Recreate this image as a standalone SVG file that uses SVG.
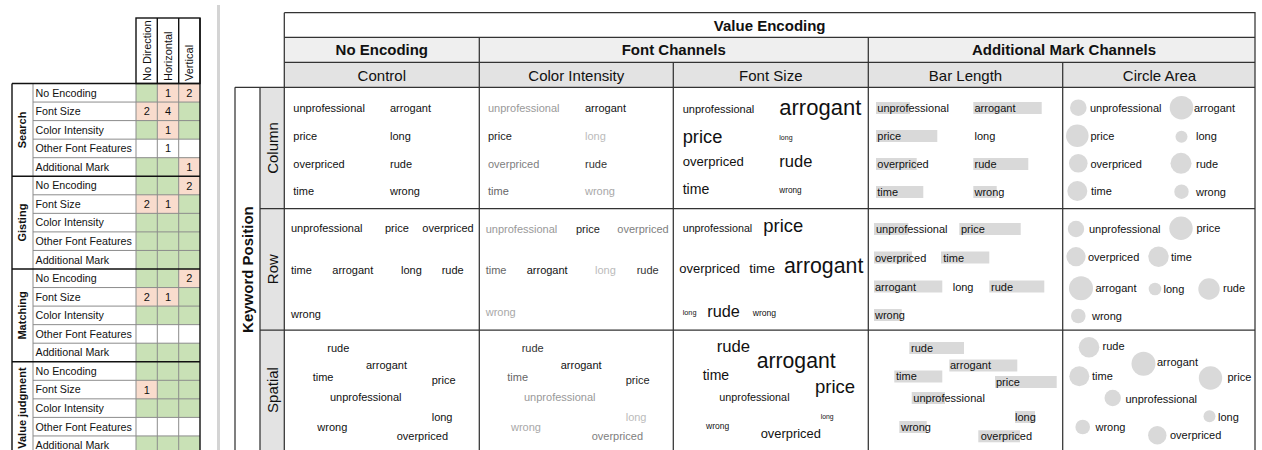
<svg xmlns="http://www.w3.org/2000/svg" width="1262" height="450" viewBox="0 0 1262 450">
  <style>
    text { font-family: "Liberation Sans", Arial, sans-serif; fill: #111; }
    .lbl { font-size: 10.7px; }
    .num { font-size: 11px; text-anchor: middle; }
    .hdr { font-size: 11px; }
    .cat { font-size: 11px; font-weight: bold; text-anchor: middle; }
    .gline { stroke: #8c8c8c; stroke-width: 1; fill: none; }
    .kline { stroke: #111; stroke-width: 1.4; fill: none; }
    .tline { stroke: #333; stroke-width: 1.25; fill: none; }
    .h1 { font-size: 15px; font-weight: bold; text-anchor: middle; }
    .h3 { font-size: 15px; text-anchor: middle; }
    .w { font-size: 11px; }
    .bar { fill: #d9d9d9; }
    .dot { fill: #d9d9d9; }
    .c1 { fill: #111; } .c2 { fill: #1c1c1c; } .c3 { fill: #333; } .c4 { fill: #666; }
    .c5 { fill: #808080; } .c6 { fill: #999; } .c7 { fill: #a8a8a8; } .c8 { fill: #bbb; }
    .green { fill: #c9e1b6; } .peach { fill: #f9dccd; }
  </style>

  <!-- ===== Study summary table ===== -->
  <g id="summary-table">
    <!-- cell fills -->
    <rect class="green" x="136" y="83.5" width="64" height="371"/>
    <g fill="#fff">
      <rect x="136" y="139.15" width="64" height="18.55"/>
      <rect x="136" y="324.65" width="64" height="18.55"/>
      <rect x="136" y="417.4" width="64" height="18.55"/>
    </g>
    <g class="peach">
      <rect x="157.3" y="83.5" width="21.4" height="18.55"/>
      <rect x="178.7" y="83.5" width="21.3" height="18.55"/>
      <rect x="136" y="102.05" width="21.3" height="18.55"/>
      <rect x="157.3" y="102.05" width="21.4" height="18.55"/>
      <rect x="157.3" y="120.6" width="21.4" height="18.55"/>
      <rect x="178.7" y="157.7" width="21.3" height="18.55"/>
      <rect x="178.7" y="176.25" width="21.3" height="18.55"/>
      <rect x="136" y="194.8" width="21.3" height="18.55"/>
      <rect x="157.3" y="194.8" width="21.4" height="18.55"/>
      <rect x="178.7" y="269" width="21.3" height="18.55"/>
      <rect x="136" y="287.55" width="21.3" height="18.55"/>
      <rect x="157.3" y="287.55" width="21.4" height="18.55"/>
      <rect x="136" y="380.3" width="21.3" height="18.55"/>
    </g>

    <!-- thin row lines -->
    <g class="gline">
      <path d="M33 102.05H200M33 120.6H200M33 139.15H200M33 157.7H200"/>
      <path d="M33 194.8H200M33 213.35H200M33 231.9H200M33 250.45H200"/>
      <path d="M33 287.55H200M33 306.1H200M33 324.65H200M33 343.2H200"/>
      <path d="M33 380.3H200M33 398.85H200M33 417.4H200M33 435.95H200"/>
      <path d="M33 83.5V454.5M136 83.5V454.5M157.3 83.5V454.5M178.7 83.5V454.5"/>
    </g>
    <!-- group rules and frame -->
    <g class="kline">
      <path d="M12 83.5H200M12 176.25H200M12 269H200M12 361.75H200"/>
      <path d="M12 83.5V454.5M200 18V454.5"/>
      <rect x="136" y="18" width="64" height="65.5"/>
      <path d="M157.3 18V83.5M178.7 18V83.5"/>
    </g>

    <!-- column heads -->
    <text class="hdr" transform="translate(150.6 81) rotate(-90)">No Direction</text>
    <text class="hdr" transform="translate(171.9 81) rotate(-90)">Horizontal</text>
    <text class="hdr" transform="translate(193.2 81) rotate(-90)">Vertical</text>

    <!-- task groups -->
    <text class="cat" transform="translate(26 129.9) rotate(-90)">Search</text>
    <text class="cat" transform="translate(26 222.6) rotate(-90)">Gisting</text>
    <text class="cat" transform="translate(26 315.4) rotate(-90)">Matching</text>
    <text class="cat" transform="translate(26 408.1) rotate(-90)">Value judgment</text>

    <!-- encodings per row -->
    <g class="lbl">
      <text x="35.5" y="96.6">No Encoding</text>
      <text x="35.5" y="115.1">Font Size</text>
      <text x="35.5" y="133.7">Color Intensity</text>
      <text x="35.5" y="152.2">Other Font Features</text>
      <text x="35.5" y="170.8">Additional Mark</text>
      <text x="35.5" y="189.3">No Encoding</text>
      <text x="35.5" y="207.9">Font Size</text>
      <text x="35.5" y="226.4">Color Intensity</text>
      <text x="35.5" y="245.0">Other Font Features</text>
      <text x="35.5" y="263.5">Additional Mark</text>
      <text x="35.5" y="282.1">No Encoding</text>
      <text x="35.5" y="300.6">Font Size</text>
      <text x="35.5" y="319.2">Color Intensity</text>
      <text x="35.5" y="337.7">Other Font Features</text>
      <text x="35.5" y="356.3">Additional Mark</text>
      <text x="35.5" y="374.8">No Encoding</text>
      <text x="35.5" y="393.4">Font Size</text>
      <text x="35.5" y="411.9">Color Intensity</text>
      <text x="35.5" y="430.5">Other Font Features</text>
      <text x="35.5" y="449.0">Additional Mark</text>
    </g>

    <!-- counts -->
    <g class="num">
      <text x="168" y="96.8">1</text><text x="189.3" y="96.8">2</text>
      <text x="146.7" y="115.3">2</text><text x="168" y="115.3">4</text>
      <text x="168" y="133.9">1</text>
      <text x="168" y="152.4">1</text>
      <text x="189.3" y="171">1</text>
      <text x="189.3" y="189.5">2</text>
      <text x="146.7" y="208.1">2</text><text x="168" y="208.1">1</text>
      <text x="189.3" y="282.3">2</text>
      <text x="146.7" y="300.8">2</text><text x="168" y="300.8">1</text>
      <text x="146.7" y="393.6">1</text>
    </g>
  </g>

  <!-- divider -->
  <rect x="217" y="5" width="3" height="445" fill="#d4d4d4"/>

  <!-- ===== Encoding matrix ===== -->
  <g id="matrix-frame">
    <rect x="284.3" y="37.3" width="970.7" height="25" fill="#efefef"/>
    <rect x="284.3" y="62.3" width="970.7" height="25" fill="#e3e3e3"/>
    <rect x="260" y="87.3" width="24.3" height="365" fill="#e3e3e3"/>
    <g class="tline">
      <path d="M284.3 12.7H1255V452M284.3 12.7V452"/>
      <path d="M284.3 37.3H1255M284.3 62.3H1255M235 87.3H1255"/>
      <path d="M260 208.5H1255M260 330H1255"/>
      <path d="M235 87.3V452M260 87.3V452"/>
      <path d="M479.3 37.3V452M868.3 37.3V452M673.3 62.3V452M1062.7 62.3V452"/>
    </g>
  </g>

  <g id="matrix-headers">
    <text class="h1" x="769.7" y="30.5">Value Encoding</text>
    <text class="h1" x="381.8" y="55">No Encoding</text>
    <text class="h1" x="673.8" y="55">Font Channels</text>
    <text class="h1" x="1064" y="55">Additional Mark Channels</text>
    <text class="h3" x="381.8" y="80.5">Control</text>
    <text class="h3" x="576.3" y="80.5">Color Intensity</text>
    <text class="h3" x="770.8" y="80.5">Font Size</text>
    <text class="h3" x="965.5" y="80.5">Bar Length</text>
    <text class="h3" x="1159.5" y="80.5">Circle Area</text>
    <text class="h1" transform="translate(253 269.6) rotate(-90)">Keyword Position</text>
    <text class="h3" transform="translate(277.6 148) rotate(-90)">Column</text>
    <text class="h3" transform="translate(277.6 269.2) rotate(-90)">Row</text>
    <text class="h3" transform="translate(277.6 390) rotate(-90)">Spatial</text>
  </g>

  <!-- Control -->
  <g id="control-column" class="w">
    <text x="293.3" y="111.5">unprofessional</text><text x="390" y="111.5">arrogant</text>
    <text x="293.3" y="139.5">price</text><text x="390" y="139.5">long</text>
    <text x="293.3" y="167.5">overpriced</text><text x="390" y="167.5">rude</text>
    <text x="293.3" y="195">time</text><text x="390" y="195">wrong</text>
  </g>
  <g id="control-row" class="w">
    <text x="291" y="231.5">unprofessional</text><text x="385" y="231.5">price</text><text x="422.3" y="231.5">overpriced</text>
    <text x="291" y="274">time</text><text x="332.3" y="274">arrogant</text><text x="401" y="274">long</text><text x="441.7" y="274">rude</text>
    <text x="291" y="318">wrong</text>
  </g>
  <g id="control-spatial" class="w">
    <text x="327.3" y="352">rude</text>
    <text x="366" y="369">arrogant</text>
    <text x="312.7" y="380.5">time</text>
    <text x="431.7" y="384">price</text>
    <text x="330" y="401">unprofessional</text>
    <text x="431.7" y="420.5">long</text>
    <text x="317.3" y="430.5">wrong</text>
    <text x="396.7" y="439.5">overpriced</text>
  </g>

  <!-- Color intensity -->
  <g id="color-column" class="w">
    <text class="c6" x="488" y="111.5">unprofessional</text><text class="c1" x="585" y="111.5">arrogant</text>
    <text class="c2" x="488" y="139.5">price</text><text class="c8" x="585" y="139.5">long</text>
    <text class="c5" x="488" y="167.5">overpriced</text><text class="c3" x="585" y="167.5">rude</text>
    <text class="c4" x="488" y="195">time</text><text class="c7" x="585" y="195">wrong</text>
  </g>
  <g id="color-row" class="w">
    <text class="c6" x="485.7" y="232.5">unprofessional</text><text class="c2" x="576" y="232.5">price</text><text class="c5" x="617.3" y="232.5">overpriced</text>
    <text class="c4" x="485.7" y="274">time</text><text class="c1" x="526.7" y="274">arrogant</text><text class="c8" x="595" y="274">long</text><text class="c3" x="636.7" y="274">rude</text>
    <text class="c7" x="485.7" y="315.5">wrong</text>
  </g>
  <g id="color-spatial" class="w">
    <text class="c3" x="521.7" y="352">rude</text>
    <text class="c1" x="560.7" y="369">arrogant</text>
    <text class="c4" x="507.3" y="380.5">time</text>
    <text class="c2" x="625.7" y="384">price</text>
    <text class="c6" x="524" y="401">unprofessional</text>
    <text class="c8" x="625.7" y="420.5">long</text>
    <text class="c7" x="511" y="430.5">wrong</text>
    <text class="c5" x="591.7" y="439.5">overpriced</text>
  </g>

  <!-- Font size -->
  <g id="size-column">
    <text x="682.7" y="112.5" font-size="11">unprofessional</text>
    <text x="779.3" y="115" font-size="22">arrogant</text>
    <text x="682.7" y="143.3" font-size="18.3">price</text>
    <text x="779.3" y="140" font-size="7">long</text>
    <text x="682.7" y="166" font-size="13.1">overpriced</text>
    <text x="779.3" y="166.7" font-size="16.5">rude</text>
    <text x="682.7" y="194.3" font-size="14.1">time</text>
    <text x="779.3" y="193.3" font-size="8.2">wrong</text>
  </g>
  <g id="size-row">
    <text x="682.7" y="232.3" font-size="10.7">unprofessional</text>
    <text x="763.3" y="232.3" font-size="18.4">price</text>
    <text x="679.3" y="272.7" font-size="13">overpriced</text>
    <text x="749.3" y="272.7" font-size="13.6">time</text>
    <text x="784" y="273.3" font-size="21.3">arrogant</text>
    <text x="682.7" y="315" font-size="7.3">long</text>
    <text x="707.3" y="316.7" font-size="16.3">rude</text>
    <text x="752.7" y="316" font-size="8.6">wrong</text>
  </g>
  <g id="size-spatial">
    <text x="716.7" y="351.7" font-size="16.7">rude</text>
    <text x="756.7" y="368.3" font-size="21.2">arrogant</text>
    <text x="702.7" y="380" font-size="14">time</text>
    <text x="815" y="393.3" font-size="18.5">price</text>
    <text x="719.3" y="401" font-size="10.8">unprofessional</text>
    <text x="820.7" y="419.3" font-size="6.8">long</text>
    <text x="706" y="429.3" font-size="8.5">wrong</text>
    <text x="760.7" y="438.3" font-size="12.9">overpriced</text>
  </g>

  <!-- Bar length -->
  <g id="bar-column">
    <rect class="bar" x="876" y="102" width="34" height="12"/>
    <rect class="bar" x="973.3" y="102" width="68.4" height="12"/>
    <rect class="bar" x="876" y="130" width="61.3" height="12"/>
    <rect class="bar" x="876" y="158" width="40.7" height="12"/>
    <rect class="bar" x="973.3" y="158" width="55" height="12"/>
    <rect class="bar" x="876" y="186" width="47.3" height="12"/>
    <rect class="bar" x="973.3" y="186" width="23.4" height="12"/>
    <g class="w">
      <text x="877.3" y="112">unprofessional</text><text x="974.5" y="112">arrogant</text>
      <text x="877.3" y="140">price</text><text x="974.5" y="140">long</text>
      <text x="877.3" y="168">overpriced</text><text x="974.5" y="168">rude</text>
      <text x="877.3" y="196">time</text><text x="974.5" y="196">wrong</text>
    </g>
  </g>
  <g id="bar-row">
    <rect class="bar" x="874" y="223" width="34.3" height="12"/>
    <rect class="bar" x="959.3" y="223" width="61.4" height="12"/>
    <rect class="bar" x="874" y="251.5" width="38" height="12"/>
    <rect class="bar" x="941" y="251.5" width="48.3" height="12"/>
    <rect class="bar" x="874" y="280.5" width="68.3" height="12"/>
    <rect class="bar" x="989.3" y="280.5" width="55" height="12"/>
    <rect class="bar" x="874" y="309" width="27.7" height="12"/>
    <g class="w">
      <text x="876" y="233">unprofessional</text><text x="961" y="233">price</text>
      <text x="875" y="261.5">overpriced</text><text x="943.3" y="261.5">time</text>
      <text x="875" y="290.5">arrogant</text><text x="952.7" y="290.5">long</text><text x="991" y="290.5">rude</text>
      <text x="875" y="319">wrong</text>
    </g>
  </g>
  <g id="bar-spatial">
    <rect class="bar" x="909.3" y="342" width="54.7" height="12"/>
    <rect class="bar" x="949.3" y="359.5" width="68" height="12"/>
    <rect class="bar" x="894.3" y="370.5" width="48" height="12"/>
    <rect class="bar" x="995" y="376" width="61.7" height="12"/>
    <rect class="bar" x="911.7" y="392" width="33.3" height="12"/>
    <rect class="bar" x="1015" y="411" width="20" height="12"/>
    <rect class="bar" x="899.3" y="421" width="27.4" height="12"/>
    <rect class="bar" x="978.3" y="430.3" width="41.7" height="12"/>
    <g class="w">
      <text x="911" y="352">rude</text>
      <text x="950" y="369.3">arrogant</text>
      <text x="896" y="380.3">time</text>
      <text x="996" y="386">price</text>
      <text x="913.3" y="402">unprofessional</text>
      <text x="1015" y="421">long</text>
      <text x="901" y="431">wrong</text>
      <text x="980.7" y="440.3">overpriced</text>
    </g>
  </g>

  <!-- Circle area -->
  <g id="circle-column">
    <circle class="dot" cx="1078.3" cy="107.7" r="8.3"/>
    <circle class="dot" cx="1181.5" cy="107.7" r="11.8"/>
    <circle class="dot" cx="1077.3" cy="135.7" r="11.3"/>
    <circle class="dot" cx="1181.5" cy="136.7" r="6"/>
    <circle class="dot" cx="1078.3" cy="163.3" r="9.3"/>
    <circle class="dot" cx="1181" cy="163.3" r="10.5"/>
    <circle class="dot" cx="1077.3" cy="191" r="10"/>
    <circle class="dot" cx="1181.5" cy="191.7" r="7.2"/>
    <g class="w">
      <text x="1090" y="111.7">unprofessional</text><text x="1194" y="111.7">arrogant</text>
      <text x="1090.5" y="139.7">price</text><text x="1196" y="140.2">long</text>
      <text x="1090.5" y="167.5">overpriced</text><text x="1196" y="167.5">rude</text>
      <text x="1091" y="195">time</text><text x="1196" y="195.5">wrong</text>
    </g>
  </g>
  <g id="circle-row">
    <circle class="dot" cx="1076" cy="229" r="8.2"/>
    <circle class="dot" cx="1181" cy="228.3" r="11.7"/>
    <circle class="dot" cx="1076" cy="256.7" r="9.6"/>
    <circle class="dot" cx="1158.5" cy="256.7" r="10.2"/>
    <circle class="dot" cx="1081" cy="288.3" r="12"/>
    <circle class="dot" cx="1155" cy="289" r="6.3"/>
    <circle class="dot" cx="1209" cy="289" r="10.7"/>
    <circle class="dot" cx="1078.3" cy="316" r="7.3"/>
    <g class="w">
      <text x="1089" y="233">unprofessional</text><text x="1196.5" y="232.3">price</text>
      <text x="1088" y="260.7">overpriced</text><text x="1171" y="260.7">time</text>
      <text x="1095.5" y="292.3">arrogant</text><text x="1163.5" y="293">long</text><text x="1223" y="292.3">rude</text>
      <text x="1092" y="320">wrong</text>
    </g>
  </g>
  <g id="circle-spatial">
    <circle class="dot" cx="1089" cy="347.3" r="10.3"/>
    <circle class="dot" cx="1143.5" cy="363.7" r="12"/>
    <circle class="dot" cx="1079.3" cy="376.3" r="10"/>
    <circle class="dot" cx="1210.5" cy="378" r="11.7"/>
    <circle class="dot" cx="1112.7" cy="398" r="8.2"/>
    <circle class="dot" cx="1209.5" cy="416.3" r="6"/>
    <circle class="dot" cx="1082.7" cy="427" r="7.3"/>
    <circle class="dot" cx="1157.3" cy="435.3" r="9.2"/>
    <g class="w">
      <text x="1102.5" y="350.3">rude</text>
      <text x="1157" y="366.3">arrogant</text>
      <text x="1092" y="379.7">time</text>
      <text x="1227.5" y="381.3">price</text>
      <text x="1125.5" y="402.7">unprofessional</text>
      <text x="1218" y="420.5">long</text>
      <text x="1095.5" y="431">wrong</text>
      <text x="1170" y="439.3">overpriced</text>
    </g>
  </g>
</svg>
